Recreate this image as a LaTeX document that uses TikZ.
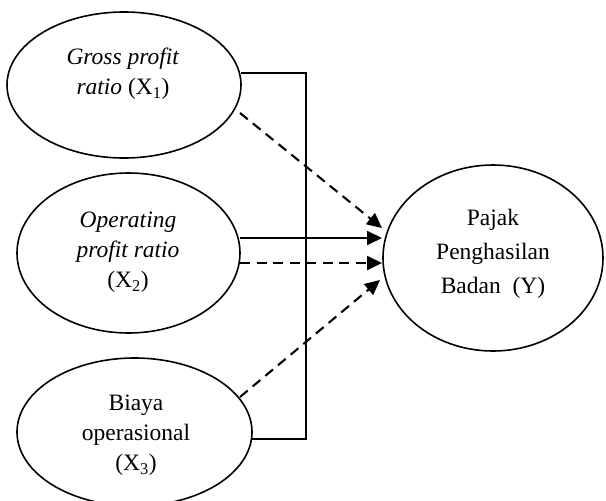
\documentclass[tikz,border=0pt]{standalone}
\usepackage{fontspec}
\setmainfont{Liberation Serif}
\usetikzlibrary{shapes.geometric,arrows.meta}
\begin{document}
\begin{tikzpicture}[x=1pt,y=-1pt,
  ell/.style={draw=black,line width=1.6pt,ellipse,inner sep=0pt,outer sep=0pt},
  txt/.style={align=center,inner sep=0pt,font=\fontsize{23.5}{30}\selectfont},
  arr/.style={line width=2.1pt,-{Triangle[length=15pt,width=14pt]}},
  dsh/.style={arr,dash pattern=on 10pt off 6.5pt},
  bus/.style={line width=1.9pt}]
\useasboundingbox (0,0) rectangle (606,501);
\node[ell,minimum width=234pt,minimum height=146pt] (e1) at (124,85) {};
\node[ell,minimum width=223pt,minimum height=160pt] (e2) at (128.5,253) {};
\node[ell,minimum width=235pt,minimum height=148pt] (e3) at (134.5,432) {};
\node[ell,minimum width=220pt,minimum height=186pt] (y) at (493,258) {};
\node[txt] (t1) at (123,74) {\textit{Gross profit}\\\textit{ratio} (X\textsubscript{1})};
\node[txt] (t2) at (128,252) {\textit{Operating}\\\textit{profit ratio}\\(X\textsubscript{2})};
\node[txt] (t3) at (136,435) {Biaya\\operasional\\(X\textsubscript{3})};
\node[txt,font=\fontsize{23.5}{34}\selectfont] (ty) at (493,254) {Pajak\\Penghasilan\\Badan~~(Y)};
% solid bus line
\draw[bus] ([shift={(117,-12)}]e1.center) -- ++(65,0) coordinate (b1) |- ([shift={(117.5,7)}]e3.center);
% arrows
\draw[dsh] ([shift={(116,28)}]e1.center) -- ([shift={(-111,-30)}]y.center);
\draw[arr] ([shift={(111.5,-15)}]e2.center) -- ([shift={(-111,-20)}]y.center);
\draw[dsh] ([shift={(111.5,10)}]e2.center) -- ([shift={(-111,5)}]y.center);
\draw[dsh] ([shift={(105.5,-35)}]e3.center) -- ([shift={(-113,22)}]y.center);
\end{tikzpicture}
\end{document}
